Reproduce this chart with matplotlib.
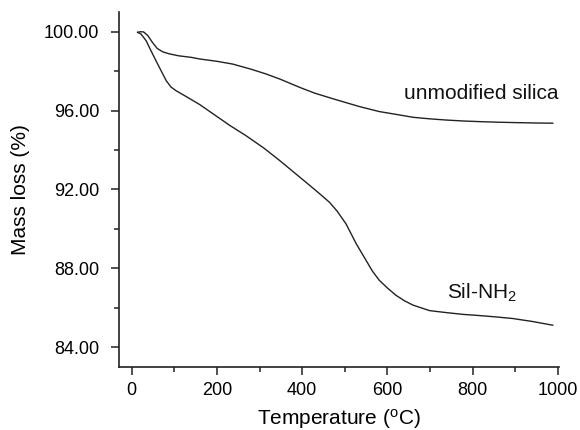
import matplotlib
matplotlib.use("Agg")
import matplotlib.pyplot as plt
from matplotlib.ticker import MultipleLocator, FormatStrFormatter

plt.rcParams['font.family'] = ['Liberation Sans', 'DejaVu Sans']
plt.rcParams['mathtext.fontset'] = 'custom'
plt.rcParams['mathtext.rm'] = 'Liberation Sans'
plt.rcParams['mathtext.it'] = 'Liberation Sans:italic'

# TGA curves, temperature (C) vs remaining mass (%)
t_silica = [14, 20, 28, 38, 49, 60, 73, 88, 110, 140, 159, 200, 237, 280, 315,
            350, 394, 430, 480, 535, 581, 628, 660, 700, 738, 780, 816, 860,
            900, 950, 988]
m_silica = [99.97, 100.0, 99.99, 99.8, 99.45, 99.15, 98.98, 98.88, 98.78, 98.7,
            98.62, 98.5, 98.36, 98.1, 97.86, 97.58, 97.18, 96.88, 96.55, 96.2,
            95.95, 95.78, 95.66, 95.58, 95.52, 95.47, 95.44, 95.41, 95.39, 95.37,
            95.36]

t_nh2 = [14, 22, 34, 45, 57, 70, 81, 92, 104, 128, 160, 190, 230, 268, 310,
         347, 380, 413, 440, 464, 482, 503, 527, 550, 565, 581, 600, 620, 640,
         660, 699, 738, 777, 816, 855, 894, 940, 988]
m_nh2 = [99.97, 99.88, 99.54, 99.05, 98.53, 97.98, 97.52, 97.2, 97.01, 96.71,
         96.3, 95.85, 95.25, 94.73, 94.1, 93.47, 92.88, 92.29, 91.8, 91.35, 90.9,
         90.25, 89.24, 88.4, 87.85, 87.39, 87.0, 86.63, 86.35, 86.13, 85.85,
         85.75, 85.66, 85.6, 85.53, 85.45, 85.3, 85.11]

fig = plt.figure(figsize=(5.8, 4.3), dpi=100)
ax = fig.add_axes([0.205, 0.147, 0.759, 0.825])
[ax.spines[i].set_visible(False) for i in ["top", "right"]]
for s in ["left", "bottom"]:
    ax.spines[s].set_linewidth(1.2)
    ax.spines[s].set_color("#222222")

ax.plot(t_silica, m_silica, color="#222222", lw=1.0)
ax.plot(t_nh2, m_nh2, color="#222222", lw=1.0)

ax.text(640, 96.86, "unmodified silica", fontsize=15, va="center", color="#111111")
ax.text(741, 86.73, "Sil-NH$_2$", fontsize=15, va="center", color="#111111")

ax.set_xlim(-30, 1003)
ax.set_ylim(83, 101)
ax.xaxis.set_major_locator(MultipleLocator(200))
ax.xaxis.set_minor_locator(MultipleLocator(100))
ax.yaxis.set_major_locator(MultipleLocator(4))
ax.yaxis.set_minor_locator(MultipleLocator(2))
ax.yaxis.set_major_formatter(FormatStrFormatter("%.2f"))
ax.set_xticks([0, 200, 400, 600, 800, 1000])
ax.set_yticks([84, 88, 92, 96, 100])

ax.tick_params(which="major", length=6, width=1.1, labelsize=13, color="#222222")
ax.tick_params(which="minor", length=3.5, width=1.1, color="#222222")
ax.tick_params(axis="y", which="major", pad=8)
ax.tick_params(axis="x", which="major", pad=5)

ax.set_xlabel("Temperature ($^{\\rm o}$C)", fontsize=15, labelpad=6)
ax.set_ylabel("Mass loss (%)", fontsize=15, labelpad=10)

fig.savefig("out.png", dpi=100)
